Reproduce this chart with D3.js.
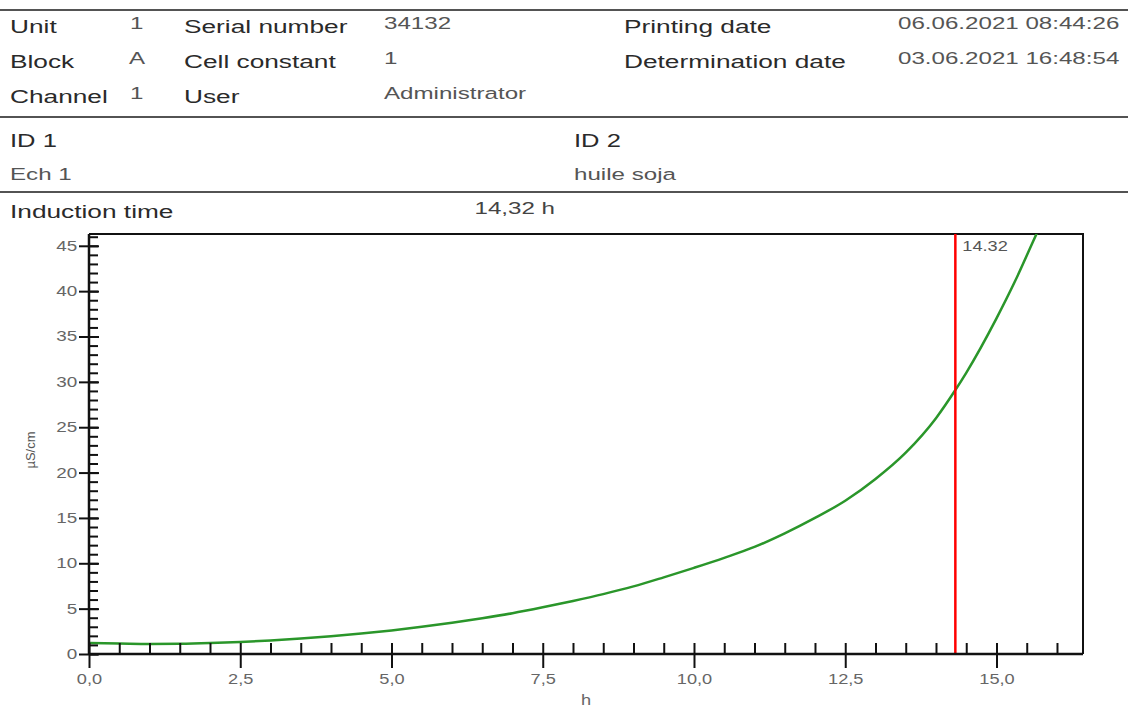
<!DOCTYPE html>
<html>
<head>
<meta charset="utf-8">
<script src="https://cdn.jsdelivr.net/npm/d3@7"></script>
<style>
  body { margin: 0; background: #fff; }
  svg { display: block; font-family: "Liberation Sans", Arial, sans-serif; }
</style>
</head>
<body>
<div class="container"></div>
<script>
// header fields
const headerLabels = [['Unit', 'Block', 'Channel'], ['Serial number', 'Cell constant', 'User'], ['Printing date', 'Determination date']];
const headerValues = [['1', 'A', '1'], ['34132', '1', 'Administrator'], ['06.06.2021 08:44:26', '03.06.2021 16:48:54']];
const idLabels = ['ID 1', 'ID 2'];
const idValues = ['Ech 1', 'huile soja'];
const inductionLabel = 'Induction time';
const inductionTime = 14.32;

// conductivity curve (h, µS/cm)
const hours = [0, 0.5, 1, 1.5, 2, 2.5, 3, 3.5, 4, 4.5, 5, 5.5, 6, 6.5, 7, 7.5, 8, 8.5, 9, 9.5, 10,
  10.5, 11, 11.5, 12, 12.5, 13, 13.5, 14, 14.32, 14.5, 15, 15.3, 15.64, 15.9];
const conductivity = [1.2, 1.15, 1.1, 1.12, 1.2, 1.33, 1.5, 1.7, 1.95, 2.25, 2.6, 3.0, 3.45, 3.95, 4.5, 5.15, 5.85, 6.6, 7.45, 8.45, 9.5,
  10.6, 11.8, 13.3, 15.0, 16.9, 19.3, 22.2, 26.0, 29.1, 31.0, 37.0, 41.0, 46.0, 49.8];
const xMajorTicks = [0, 2.5, 5, 7.5, 10, 12.5, 15];
const yMajorTicks = [0, 5, 10, 15, 20, 25, 30, 35, 40, 45];

const width = 1130;
const height = 709;
const sx = 1.42; // the report text is wide, stretch it horizontally

const svg = d3.select('.container').append('svg').attr('width', width).attr('height', height);

const addText = (g, x, y, str, size, fill, anchor, stretch) => {
  const s = stretch || sx;
  return g.append('text')
    .attr('transform', `translate(${x},${y}) scale(${s},1)`)
    .attr('font-size', size)
    .attr('fill', fill)
    .attr('text-anchor', anchor || 'start')
    .text(str);
};

//header
const header = svg.append('g').attr('class', 'header');
[10, 117, 192].forEach(y => {
  header.append('line').attr('x1', 0).attr('x2', 1128).attr('y1', y).attr('y2', y)
    .attr('stroke', '#1a1a1a').attr('stroke-width', 1.6);
});

const labelX = [10, 184, 624];
const valueX = [130, 384, 898];
headerLabels.forEach((col, i) => {
  col.forEach((t, j) => addText(header, labelX[i], 33 + j * 35, t, 18.5, '#2a2a2a'));
});
headerValues.forEach((col, i) => {
  col.forEach((t, j) => addText(header, valueX[i] - (i === 0 && j === 1 ? 1 : 0), 29 + j * 35, t, 17, '#555'));
});

const idX = [10, 574];
idLabels.forEach((t, i) => addText(header, idX[i], 147, t, 18, '#2a2a2a'));
idValues.forEach((t, i) => addText(header, idX[i], 180, t, 17, '#555'));
addText(header, 10, 218, inductionLabel, 18.5, '#2a2a2a');
addText(header, 555, 214, d3.format('.2f')(inductionTime).replace('.', ',') + ' h', 17, '#444', 'end');

//chart
const plotLeft = 89, plotRight = 1083, plotTop = 234, plotBottom = 654;
const xScale = d3.scaleLinear().domain([0, 16.43]).range([plotLeft, plotRight]);
const yScale = d3.scaleLinear().domain([0, 46.3]).range([plotBottom, plotTop]);

const chart = svg.append('g').attr('class', 'chart');
chart.append('clipPath').attr('id', 'plot-clip')
  .append('rect').attr('x', plotLeft).attr('y', plotTop)
  .attr('width', plotRight - plotLeft).attr('height', plotBottom - plotTop);

// border top / right
chart.append('path')
  .attr('d', `M${plotLeft},${plotTop}H${plotRight}V${plotBottom}`)
  .attr('fill', 'none').attr('stroke', '#111').attr('stroke-width', 2);

const line = d3.line()
  .x((d, i) => xScale(hours[i]))
  .y(d => yScale(d))
  .curve(d3.curveMonotoneX);

chart.append('path')
  .attr('clip-path', 'url(#plot-clip)')
  .attr('d', line(conductivity))
  .attr('fill', 'none')
  .attr('stroke', '#2a962a')
  .attr('stroke-width', 2.5);

// induction marker
chart.append('line')
  .attr('x1', xScale(inductionTime)).attr('x2', xScale(inductionTime))
  .attr('y1', plotTop).attr('y2', plotBottom)
  .attr('stroke', '#f00').attr('stroke-width', 2.5);
addText(chart, xScale(inductionTime) + 7, 251, d3.format('.2f')(inductionTime), 14, '#555', 'start', 1.3);

//axes
const fmtX = d => d3.format('.1f')(d).replace('.', ',');
const xMinor = d3.range(0, 16.01, 0.5);
const yMinor = d3.range(0, 46.01, 1);

const xMinorAxis = chart.append('g').attr('transform', `translate(0,${plotBottom})`)
  .call(d3.axisBottom(xScale).tickValues(xMinor).tickSize(-11).tickFormat(''));
const xMajorAxis = chart.append('g').attr('transform', `translate(0,${plotBottom})`)
  .call(d3.axisBottom(xScale).tickValues(xMajorTicks).tickSizeInner(14).tickSizeOuter(0).tickFormat(fmtX).tickPadding(6));
const yMinorAxis = chart.append('g').attr('transform', `translate(${plotLeft},0)`)
  .call(d3.axisLeft(yScale).tickValues(yMinor).tickSize(-9).tickFormat(''));
const yMajorAxis = chart.append('g').attr('transform', `translate(${plotLeft},0)`)
  .call(d3.axisLeft(yScale).tickValues(yMajorTicks).tickSizeInner(10).tickSizeOuter(0).tickPadding(9));
const yMajorInner = chart.append('g').attr('transform', `translate(${plotLeft},0)`)
  .call(d3.axisLeft(yScale).tickValues(yMajorTicks).tickSizeInner(-10).tickSizeOuter(0).tickFormat(''));

[xMinorAxis, xMajorAxis, yMinorAxis, yMajorAxis, yMajorInner].forEach(a => {
  a.selectAll('.domain').remove();
  a.selectAll('.tick line').attr('stroke', '#111').attr('stroke-width', 2);
  a.selectAll('.tick text').attr('font-size', 14).attr('fill', '#666')
    .attr('font-family', '"Liberation Sans", Arial, sans-serif');
});
xMajorAxis.selectAll('.tick text').attr('transform', 'scale(1.3,1)');
yMajorAxis.selectAll('.tick text').attr('transform', 'scale(1.35,1)').attr('x', -9 / 1.35 - 2);

// axis lines
chart.append('line').attr('x1', plotLeft).attr('x2', plotRight).attr('y1', plotBottom).attr('y2', plotBottom)
  .attr('stroke', '#111').attr('stroke-width', 2.5);
chart.append('line').attr('x1', plotLeft).attr('x2', plotLeft).attr('y1', plotBottom).attr('y2', plotTop)
  .attr('stroke', '#111').attr('stroke-width', 2.5);

//labels
addText(svg, 586, 705, 'h', 14, '#666', 'middle', 1.3);
svg.append('text')
  .attr('transform', 'translate(35,450) rotate(-90)')
  .attr('font-size', 13)
  .attr('fill', '#555')
  .attr('text-anchor', 'middle')
  .text('µS/cm');
</script>
</body>
</html>
